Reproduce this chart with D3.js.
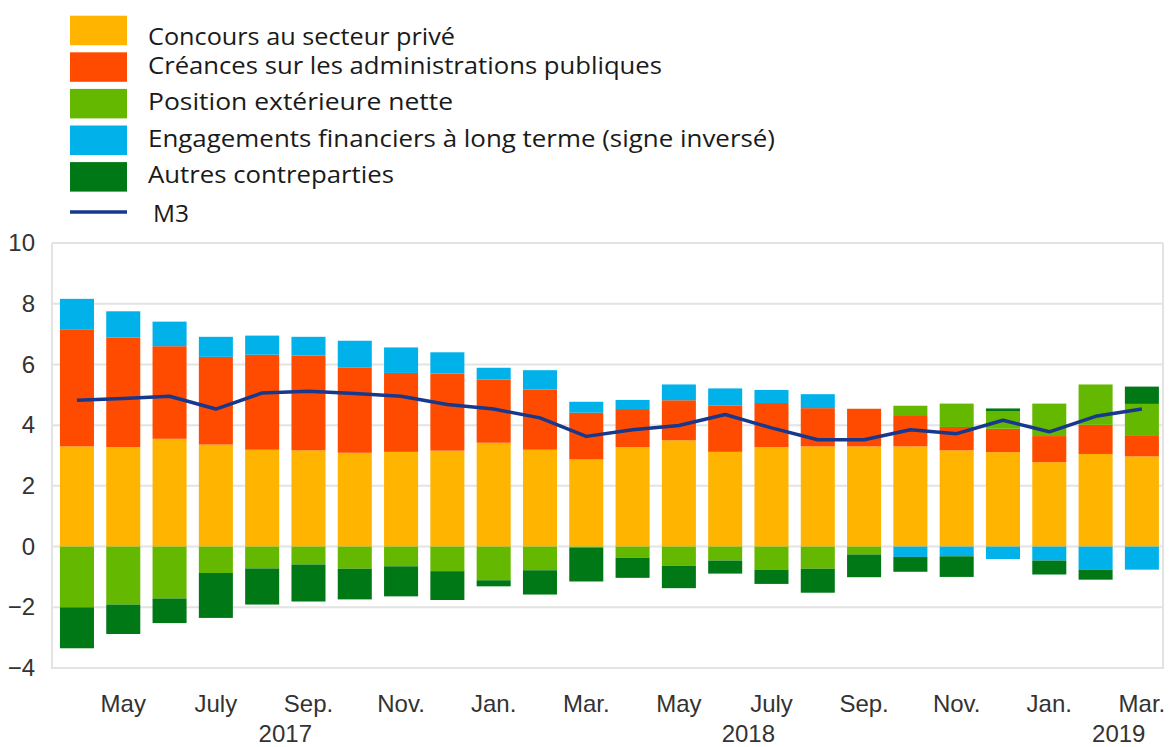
<!DOCTYPE html>
<html>
<head>
<meta charset="utf-8">
<script src="https://cdn.jsdelivr.net/npm/d3@7"></script>
<style>
  body { margin: 0; background: #fff; }
  svg { display: block; }
</style>
</head>
<body>
<div id="chart"></div>
<script>
// monthly contributions to M3 growth, April 2017 - March 2019
var months = ["2017-04", "2017-05", "2017-06", "2017-07", "2017-08", "2017-09",
              "2017-10", "2017-11", "2017-12", "2018-01", "2018-02", "2018-03",
              "2018-04", "2018-05", "2018-06", "2018-07", "2018-08", "2018-09",
              "2018-10", "2018-11", "2018-12", "2019-01", "2019-02", "2019-03"]

var monthLabels = ["", "May", "", "July", "", "Sep.", "", "Nov.", "", "Jan.", "", "Mar.",
                   "", "May", "", "July", "", "Sep.", "", "Nov.", "", "Jan.", "", "Mar."]

var years = ["2017", "2018", "2019"]
var yearAnchors = [["2017-08", "2017-09"], ["2018-06", "2018-07"], ["2019-02", "2019-03"]]

var concours = [3.30, 3.28, 3.55, 3.36, 3.19, 3.17, 3.09, 3.12, 3.16, 3.42, 3.19, 2.87,
                3.28, 3.50, 3.12, 3.28, 3.30, 3.30, 3.30, 3.17, 3.11, 2.78, 3.05, 2.97]
var creances = [3.84, 3.61, 3.05, 2.89, 3.13, 3.12, 2.80, 2.60, 2.54, 2.08, 1.98, 1.54,
                1.25, 1.32, 1.52, 1.45, 1.26, 1.24, 1.03, 0.77, 0.77, 0.86, 0.96, 0.70]
var position = [-2.00, -1.91, -1.71, -0.87, -0.72, -0.59, -0.73, -0.65, -0.81, -1.11, -0.78, -0.03,
                -0.37, -0.63, -0.46, -0.76, -0.73, -0.26, 0.31, 0.77, 0.57, 1.07, 1.33, 1.03]
var engagements = [1.02, 0.86, 0.81, 0.66, 0.63, 0.62, 0.89, 0.84, 0.70, 0.39, 0.64, 0.36,
                   0.30, 0.52, 0.57, 0.43, 0.46, 0.00, -0.34, -0.32, -0.41, -0.46, -0.76, -0.76]
var autres = [-1.35, -0.97, -0.81, -1.48, -1.19, -1.22, -1.01, -0.99, -0.95, -0.20, -0.80, -1.12,
              -0.66, -0.74, -0.43, -0.47, -0.79, -0.75, -0.49, -0.68, 0.10, -0.46, -0.33, 0.57]
var m3 = [4.82, 4.88, 4.95, 4.53, 5.06, 5.12, 5.04, 4.95, 4.68, 4.53, 4.24, 3.63,
          3.85, 3.99, 4.35, 3.91, 3.52, 3.52, 3.85, 3.72, 4.16, 3.78, 4.29, 4.53]

var seriesKeys = ["concours", "creances", "position", "engagements", "autres"]
var seriesNames = ["Concours au secteur privé",
                   "Créances sur les administrations publiques",
                   "Position extérieure nette",
                   "Engagements financiers à long terme (signe inversé)",
                   "Autres contreparties"]
var seriesColors = ["#ffb400", "#ff4b00", "#65b800", "#00b1ea", "#007816"]
var lineName = "M3"
var lineColor = "#17388d"

var yTicks = [-4, -2, 0, 2, 4, 6, 8, 10]

var width = 1169
var height = 747
var plot = { left: 52, right: 1163, top: 243, bottom: 668 }

var rows = months.map(function(m, i) {
  return { month: m, concours: concours[i], creances: creances[i], position: position[i],
           engagements: engagements[i], autres: autres[i], m3: m3[i] }
})

var svg = d3.select('#chart').append('svg')
            .attr('width', width)
            .attr('height', height)

var x = d3.scaleBand()
          .domain(months)
          .range([plot.left, plot.right])
          .paddingInner(0.265)
          .paddingOuter(0.13)
          .align(0.66)

var y = d3.scaleLinear()
          .domain([-4, 10])
          .range([plot.bottom, plot.top])

var color = d3.scaleOrdinal().domain(seriesKeys).range(seriesColors)

// grid
svg.append('g')
   .selectAll('line')
   .data(yTicks)
   .enter().append('line')
   .attr('x1', plot.left)
   .attr('x2', plot.right)
   .attr('y1', function(d) { return y(d) })
   .attr('y2', function(d) { return y(d) })
   .attr('stroke', '#e3e3e3')
   .attr('stroke-width', 2)

// frame sides
svg.append('path')
   .attr('d', 'M' + plot.left + ',' + plot.top + 'V' + plot.bottom + 'H' + plot.right + 'V' + plot.top)
   .attr('fill', 'none')
   .attr('stroke', '#e3e3e3')
   .attr('stroke-width', 2)

var stack = d3.stack()
              .keys(seriesKeys)
              .offset(d3.stackOffsetDiverging)

var layers = svg.append('g')
                .selectAll('g')
                .data(stack(rows))
                .enter().append('g')
                .attr('fill', function(d) { return color(d.key) })

layers.selectAll('rect')
      .data(function(d) { return d })
      .enter().append('rect')
      .attr('x', function(d) { return x(d.data.month) })
      .attr('width', x.bandwidth())
      .attr('y', function(d) { return y(Math.max(d[0], d[1])) })
      .attr('height', function(d) { return Math.abs(y(d[0]) - y(d[1])) })

var line = d3.line()
             .x(function(d) { return x(d.month) + x.bandwidth() / 2 })
             .y(function(d) { return y(d.m3) })

svg.append('path')
   .datum(rows)
   .attr('d', line)
   .attr('fill', 'none')
   .attr('stroke', lineColor)
   .attr('stroke-width', 3.5)
   .attr('stroke-linejoin', 'round')

// y axis labels
var yAxis = d3.axisLeft(y)
              .tickValues(yTicks)
              .tickSize(0)
              .tickPadding(17)

var gy = svg.append('g')
            .attr('transform', 'translate(' + plot.left + ',0)')
            .call(yAxis)
gy.select('.domain').remove()
gy.selectAll('text')
  .attr('font-family', 'Liberation Sans, Arial, sans-serif')
  .attr('font-size', 24)
  .attr('fill', '#333')

// x axis labels
var xAxis = d3.axisBottom(x)
              .tickSize(0)
              .tickPadding(27)
              .tickFormat(function(d, i) { return monthLabels[i] })

var gx = svg.append('g')
            .attr('transform', 'translate(0,' + plot.bottom + ')')
            .call(xAxis)
gx.select('.domain').remove()
gx.selectAll('text')
  .attr('font-family', 'Liberation Sans, Arial, sans-serif')
  .attr('font-size', 24)
  .attr('fill', '#333')

svg.append('g')
   .selectAll('text')
   .data(years)
   .enter().append('text')
   .attr('x', function(d, i) {
     var a = yearAnchors[i]
     return (x(a[0]) + x(a[1])) / 2 + x.bandwidth() / 2
   })
   .attr('y', 742)
   .attr('text-anchor', 'middle')
   .attr('font-family', 'Liberation Sans, Arial, sans-serif')
   .attr('font-size', 24)
   .attr('fill', '#333')
   .text(function(d) { return d })

// legend
var legendWidths = [307, 514, 305, 627, 246]
var legend = svg.append('g')

var items = legend.selectAll('g')
                  .data(seriesNames)
                  .enter().append('g')
                  .attr('transform', function(d, i) { return 'translate(70,' + (15.7 + i * 36.6) + ')' })

items.append('rect')
     .attr('width', 57)
     .attr('height', 29.5)
     .attr('fill', function(d, i) { return seriesColors[i] })

items.append('text')
     .attr('x', 78)
     .attr('y', function(d, i) { return i < 2 ? 29.3 - i * 7.6 : 21 })
     .attr('font-family', 'Open Sans, sans-serif')
     .attr('font-size', 23)
     .attr('fill', '#1a1a1a')
     .attr('textLength', function(d, i) { return legendWidths[i] })
     .attr('lengthAdjust', 'spacingAndGlyphs')
     .text(function(d) { return d })

legend.append('line')
      .attr('x1', 70)
      .attr('x2', 127)
      .attr('y1', 212)
      .attr('y2', 212)
      .attr('stroke', lineColor)
      .attr('stroke-width', 3.5)

legend.append('text')
      .attr('x', 153)
      .attr('y', 221.5)
      .attr('font-family', 'Open Sans, sans-serif')
      .attr('font-size', 23)
      .attr('fill', '#1a1a1a')
      .attr('textLength', 36)
      .attr('lengthAdjust', 'spacingAndGlyphs')
      .text(lineName)
</script>
</body>
</html>
